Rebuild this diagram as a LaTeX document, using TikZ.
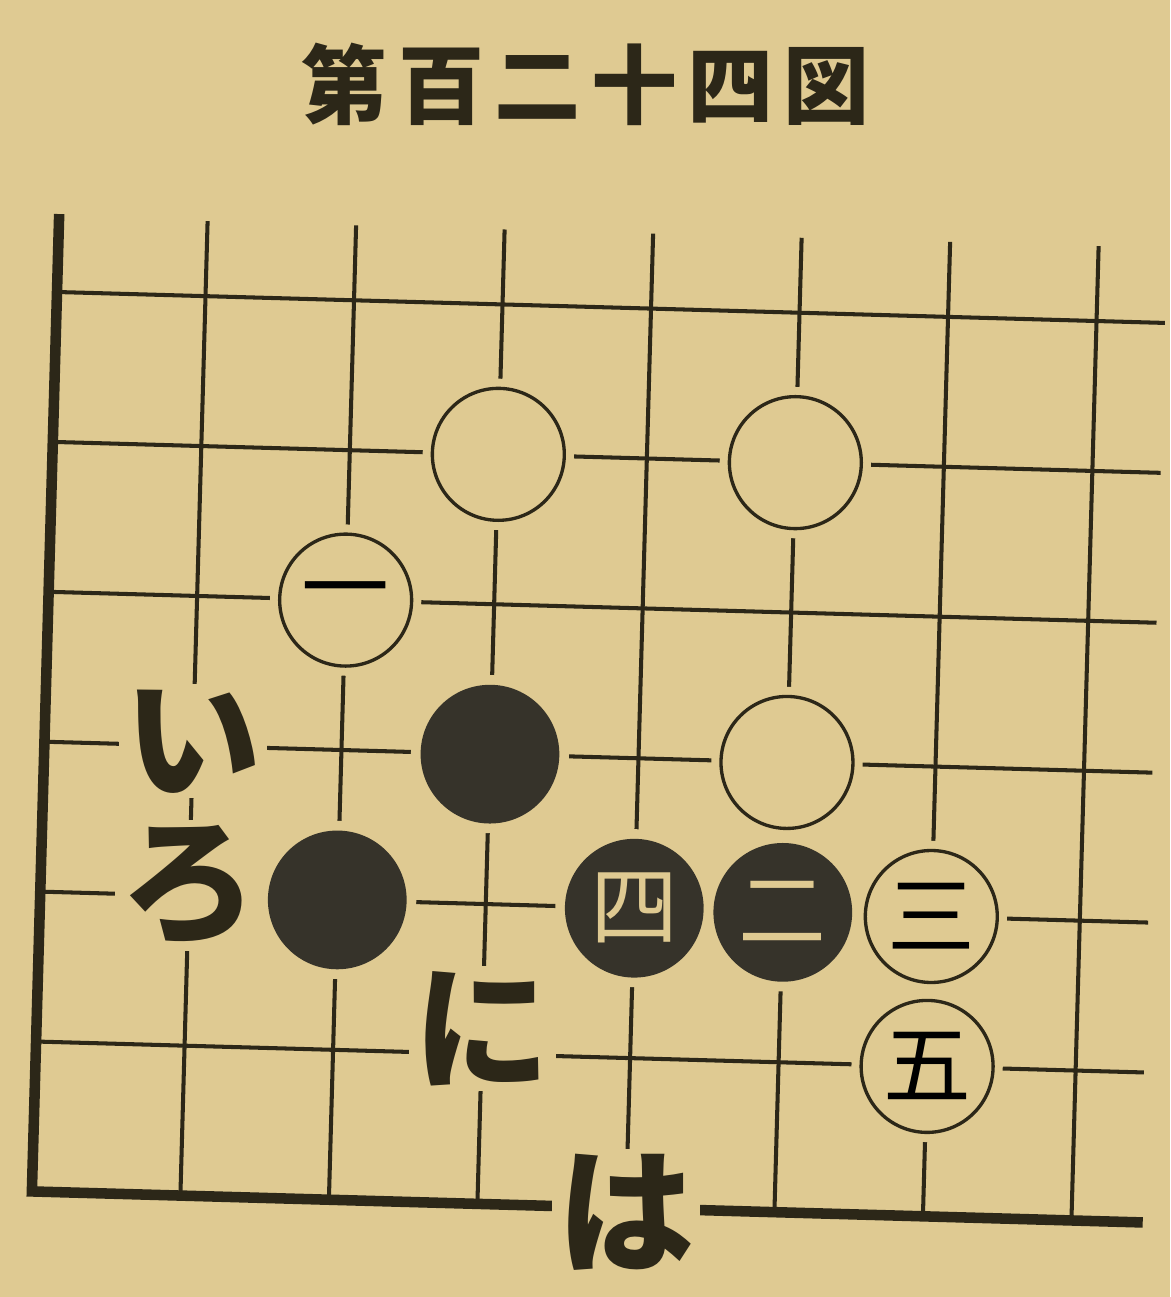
\documentclass[tikz,border=0pt]{standalone}
\usepackage{fontspec}
\newfontfamily\cjk{Noto Sans CJK JP}
\definecolor{paper}{HTML}{DFCA92}
\definecolor{ink}{HTML}{2C2718}
\definecolor{stoneblack}{HTML}{36332A}

\tikzset{
  gridline/.style={ink, line width=2.3pt},
  edgeline/.style={ink, line width=6pt, line join=miter},
  whitestone/.style={circle, draw=ink, fill=paper, line width=1.9pt, minimum size=2.64cm, inner sep=0pt,
    preaction={draw=paper, line width=11pt}},
  blackstone/.style={circle, draw=stoneblack, fill=stoneblack, line width=1pt, minimum size=2.74cm, inner sep=0pt,
    text=paper, preaction={draw=paper, line width=12pt}},
  movenum/.style={font=\cjk\fontsize{50}{50}\selectfont},
  kana/.style={fill=paper, inner sep=3pt, text=ink, font=\cjk\bfseries\fontsize{78}{78}\selectfont},
}

\begin{document}
\begin{tikzpicture}[x=0.02cm, y=-0.02cm]
  % 背景
  \useasboundingbox[fill=paper] (0,0) rectangle (1170,1297);
  % 标题
  \node[text=ink, font=\cjk\bfseries\fontsize{49}{49}\selectfont\addfontfeatures{LetterSpace=12}] (title) at (586,84) {第百二十四図};

  % ================= 棋盘 (略微倾斜) =================
  \begin{scope}[shift={(57,292)}, rotate=-1.6, x=2.972cm, y=-3cm]
    % 1. 竖线
    \draw[gridline] (1,-0.5) -- (1,6);
    \draw[gridline] (2,-0.5) -- (2,6);
    \draw[gridline] (3,-0.5) -- (3,6);
    \draw[gridline] (4,-0.5) -- (4,6);
    \draw[gridline] (5,-0.5) -- (5,6);
    \draw[gridline] (6,-0.5) -- (6,6);
    \draw[gridline] (7,-0.5) -- (7,6);
    % 2. 横线
    \draw[gridline] (0,0) -- (7.46,0);
    \draw[gridline] (0,1) -- (7.46,1);
    \draw[gridline] (0,2) -- (7.46,2);
    \draw[gridline] (0,3) -- (7.46,3);
    \draw[gridline] (0,4) -- (7.46,4);
    \draw[gridline] (0,5) -- (7.46,5);
    % 3. 边线
    \draw[edgeline] (0,-0.52) -- (0,6) -- (7.48,6);

    % 4. 白子
    \node[whitestone] (w1) at (3,1) {};
    \node[whitestone] (w2) at (5,1) {};
    \node[whitestone, movenum] (w3) at (2,2) {一};
    \node[whitestone] (w4) at (5,3) {};
    \node[whitestone, movenum] (w5) at (6,4) {三};
    \node[whitestone, movenum] (w6) at (6,5) {五};
    % 5. 黑子
    \node[blackstone] (b1) at (3,3) {};
    \node[blackstone] (b2) at (2,4) {};
    \node[blackstone, movenum] (b3) at (4,4) {四};
    \node[blackstone, movenum] (b4) at (5,4) {二};

    % 6. 记号
    \node[kana] (i) at (1,2.97) {い};
    \node[kana] (ro) at (1,3.93) {ろ};
    \node[kana] (ni) at (3,4.83) {に};
    \node[kana] (ha) at (4,6.03) {は};
  \end{scope}
\end{tikzpicture}
\end{document}
